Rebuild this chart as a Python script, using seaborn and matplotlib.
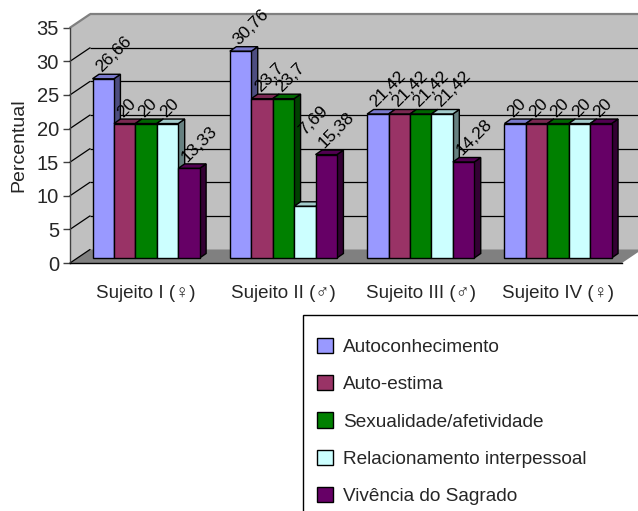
import matplotlib
matplotlib.use("Agg")
import matplotlib.pyplot as plt
import numpy as np
import pandas as pd
import seaborn as sns
from matplotlib.patches import Polygon, Rectangle, Patch
from matplotlib.transforms import ScaledTranslation
from matplotlib.colors import to_rgb

# ---- data -------------------------------------------------------------
subjects = ["Sujeito I (♀)", "Sujeito II (♂)", "Sujeito III (♂)", "Sujeito IV (♀)"]
themes = ["Autoconhecimento", "Auto-estima", "Sexualidade/afetividade",
          "Relacionamento interpessoal", "Vivência do Sagrado"]
autoconhecimento = [26.66, 30.76, 21.42, 20]
auto_estima = [20, 23.7, 21.42, 20]
sexualidade = [20, 23.7, 21.42, 20]
relacionamento = [20, 7.69, 21.42, 20]
vivencia = [13.33, 15.38, 14.28, 20]
y_ticks = [0, 5, 10, 15, 20, 25, 30, 35]

series = [autoconhecimento, auto_estima, sexualidade, relacionamento, vivencia]
front_colors = ["#9999FF", "#993366", "#008000", "#CCFFFF", "#660066"]

df = pd.DataFrame(
    [(s, t, v) for t, vals in zip(themes, series) for s, v in zip(subjects, vals)],
    columns=["Sujeito", "Tema", "Percentual"],
)

# ---- style ------------------------------------------------------------
sns.set_theme(style="white")
plt.rcParams["font.family"] = ["Liberation Sans", "DejaVu Sans"]

W, H, DPI = 638, 511, 100
fig = plt.figure(figsize=(W / DPI, H / DPI), dpi=DPI, facecolor="white")

# front plane of the 3-D box, in pixels
left_px, right_px, zero_px, top_px = 70, 622, 263, 27.7
ax = fig.add_axes([left_px / W, (H - zero_px) / H,
                   (right_px - left_px) / W, (zero_px - top_px) / H])
ax.patch.set_visible(False)

sns.barplot(data=df, x="Sujeito", y="Percentual", hue="Tema", hue_order=themes,
            palette=front_colors, saturation=1, width=0.78, edgecolor="black",
            linewidth=1, legend=False, ax=ax)
bars = sorted(list(ax.patches), key=lambda p: p.get_x())

xl, xr = -0.5, 3.52
ax.set_xlim(xl, xr)
ax.set_ylim(0, 35)
sx = (right_px - left_px) / (xr - xl)      # pixels per x unit
sy = (zero_px - top_px) / 35               # pixels per y unit

# ---- walls, floor and gridlines -----------------------------------------
wdx, wdy = 20 / sx, 13.5 / sy              # depth of the box
wall_c, floor_c = "#C0C0C0", "#808080"
ax.add_patch(Rectangle((xl + wdx, wdy), (xr - xl) + 1, 35, facecolor=wall_c,
                       edgecolor="none", zorder=0.5, clip_on=False))
ax.add_patch(Polygon([(xl, 0), (xl, 35), (xl + wdx, 35 + wdy), (xl + wdx, wdy)],
                     closed=True, facecolor=wall_c, edgecolor="none",
                     zorder=0.5, clip_on=False))
ax.add_patch(Polygon([(xl, 0), (xr, 0), (xr + wdx, wdy), (xl + wdx, wdy)],
                     closed=True, facecolor=floor_c, edgecolor="none",
                     zorder=0.6, clip_on=False))
for v in y_ticks:
    c = floor_c if v == 35 else "black"
    lw = 1.6 if v == 35 else 0.9
    if v > 0:
        ax.plot([xl + wdx, xr + 2 * wdx], [v + wdy, v + wdy], color=c, lw=lw,
                zorder=1, clip_on=False, solid_capstyle="butt")
    ax.plot([xl, xl + wdx], [v, v + wdy], color=c, lw=lw, zorder=1,
            clip_on=False)

# ---- pseudo 3-D bars ----------------------------------------------------
bar_shift = ScaledTranslation(7.4 / DPI, 5 / DPI, fig.dpi_scale_trans)
bar_tr = ax.transData + bar_shift
ddx, ddy = 6.5 / sx, 4.5 / sy              # bar depth

# extra lift (pixels) for labels that would otherwise collide with neighbours
label_lift = {(1, 3): (2, 65)}


def shade(c, f):
    r, g, b = to_rgb(c)
    return (r * f, g * f, b * f)


def fmt(v):
    s = f"{v:.2f}".rstrip("0").rstrip(".")
    return s.replace(".", ",")


for i, p in enumerate(bars):
    x0, w, h = p.get_x(), p.get_width(), p.get_height()
    col = p.get_facecolor()
    z = 3 + i * 0.03
    p.set_transform(bar_tr)
    p.set_zorder(z + 0.02)
    p.set_clip_on(False)
    side = Polygon([(x0 + w, 0), (x0 + w + ddx, ddy), (x0 + w + ddx, h + ddy),
                    (x0 + w, h)], closed=True, facecolor=shade(col, 0.5),
                   edgecolor="black", lw=1, transform=bar_tr, zorder=z,
                   clip_on=False)
    top = Polygon([(x0, h), (x0 + ddx, h + ddy), (x0 + w + ddx, h + ddy),
                   (x0 + w, h)], closed=True, facecolor=shade(col, 0.8),
                  edgecolor="black", lw=1, transform=bar_tr, zorder=z + 0.01,
                  clip_on=False)
    ax.add_patch(side)
    ax.add_patch(top)
    lx, ly = label_lift.get((i // 5, i % 5), (0, 0))
    ax.text(x0, h, fmt(h), rotation=45, rotation_mode="anchor", ha="left",
            va="baseline", fontsize=12.5, color="black", zorder=10,
            transform=bar_tr + ScaledTranslation((9 + lx) / DPI, (6 + ly) / DPI,
                                                 fig.dpi_scale_trans))

# ---- axes ---------------------------------------------------------------
for s in ["top", "right"]:
    ax.spines[s].set_visible(False)
ax.spines["left"].set_color("#404040")
ax.spines["left"].set_linewidth(1)
ax.spines["bottom"].set_color("black")
ax.spines["bottom"].set_linewidth(1)
ax.spines["left"].set_zorder(2)
ax.spines["bottom"].set_zorder(2)

ax.set_yticks(y_ticks)
ax.tick_params(axis="y", direction="out", length=5, width=1, color="#404040",
               labelsize=14.5, pad=3, left=True)
ax.tick_params(axis="x", length=0, labelsize=13.5, pad=16)
for lab in ax.get_xticklabels():
    lab.set_transform(lab.get_transform() +
                      ScaledTranslation(7.4 / DPI, 0, fig.dpi_scale_trans))
ax.set_xlabel("")
ax.set_ylabel("Percentual", fontsize=14)
ax.yaxis.set_label_coords(-0.078, 0.5)

# ---- legend -------------------------------------------------------------
handles = [Patch(facecolor=c, edgecolor="black", linewidth=1) for c in front_colors]
fig.legend(handles, themes, loc="upper left",
           bbox_to_anchor=(317 / W, 1 - 338 / H), frameon=False, fontsize=13.7,
           handlelength=0.85, handleheight=0.85, handletextpad=0.5,
           labelspacing=1.0, borderpad=0, borderaxespad=0)
fig.patches.append(Rectangle((303 / W, -0.2), 0.6, (1 - 315 / H) + 0.2,
                             transform=fig.transFigure, fill=False,
                             edgecolor="black", lw=1))

fig.savefig("out.png", dpi=DPI)
